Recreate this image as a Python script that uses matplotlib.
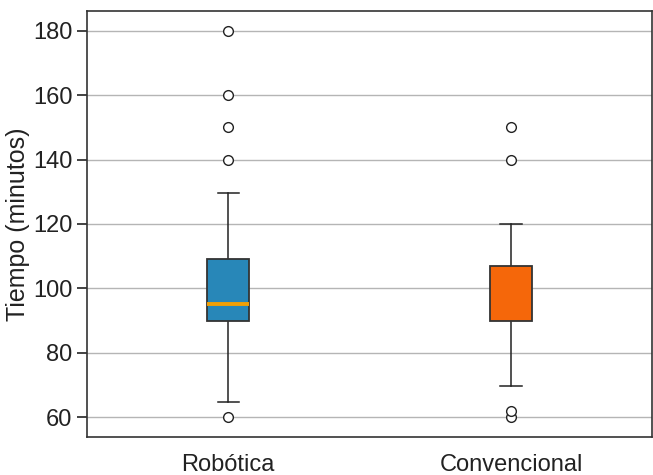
import matplotlib
matplotlib.use('Agg')
import matplotlib.pyplot as plt

# box statistics
groups = ['Robótica', 'Convencional']
q1 = [90, 90]
med = [95, 90]
q3 = [109, 107]
whislo = [64.7, 69.6]
whishi = [129.5, 120]
fliers = [[60, 140, 150, 160, 180], [60, 62, 140, 150]]
box_colors = ['#2887b8', '#f5670a']
yticks = [60, 80, 100, 120, 140, 160, 180]

plt.rcParams['font.family'] = ['Liberation Sans', 'DejaVu Sans']

stats = []
for i in range(len(groups)):
    stats.append({'label': groups[i], 'q1': q1[i], 'med': med[i], 'q3': q3[i],
                  'whislo': whislo[i], 'whishi': whishi[i], 'fliers': fliers[i]})

fig = plt.figure(figsize=(6.53, 4.75), dpi=100)
ax = fig.add_axes([0.133, 0.08, 0.866, 0.897])

ax.yaxis.grid(True, color='#b5b5b5', linewidth=1.0, zorder=0)
ax.set_axisbelow(True)

bp = ax.bxp(stats, positions=[1, 2], widths=0.15, patch_artist=True,
            boxprops=dict(edgecolor='#333333', linewidth=1.3),
            medianprops=dict(color='#f2a005', linewidth=2.8),
            whiskerprops=dict(color='#222222', linewidth=1.1),
            capprops=dict(color='#222222', linewidth=1.1),
            flierprops=dict(marker='o', markerfacecolor='white', markeredgecolor='#222222',
                            markersize=7, markeredgewidth=1.0))
for patch, c in zip(bp['boxes'], box_colors):
    patch.set_facecolor(c)
    patch.set_zorder(3)
bp['medians'][0].set_zorder(4)
# median of Convencional coincides with Q1, not visible in the reference
bp['medians'][1].set_visible(False)

ax.set_xlim(0.5, 2.5)
ax.set_ylim(53.8, 186.2)
ax.set_yticks(yticks)
ax.set_ylabel('Tiempo (minutos)', fontsize=18, color='#222222', labelpad=2)
ax.tick_params(axis='y', labelsize=17, length=7, width=1.2, colors='#222222')
ax.tick_params(axis='x', labelsize=17, length=0, pad=12, colors='#222222')
for s in ax.spines.values():
    s.set_color('#333333')
    s.set_linewidth(1.2)

fig.savefig('out.png', dpi=100)
